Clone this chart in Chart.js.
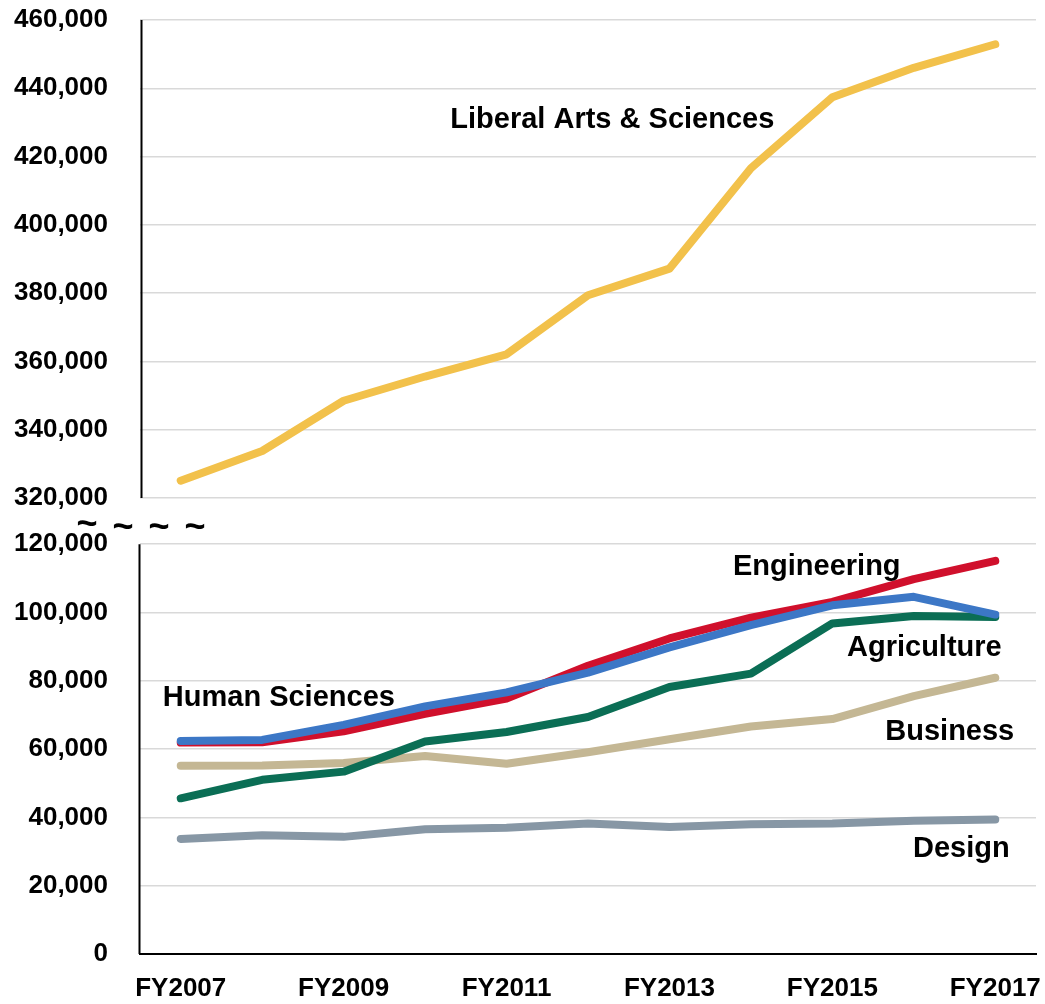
<!DOCTYPE html>
<html>
<head>
<meta charset="utf-8">
<script src="https://cdn.jsdelivr.net/npm/chart.js@4.4.0/dist/chart.umd.min.js"></script>
<style>
    html, body { margin: 0; padding: 0; background: #fff; }
    #chartWrap { position: relative; width: 1045px; height: 1004px; }
</style>
</head>
<body>
<div id="chartWrap"><canvas id="enrollChart"></canvas></div>
<script>
/************************
 *      Resource
 ************************/
const CATEGORIES = ["FY2007", "FY2008", "FY2009", "FY2010", "FY2011", "FY2012", "FY2013", "FY2014", "FY2015", "FY2016", "FY2017"]

const LIBERAL_ARTS = [325100, 333800, 348500, 355600, 362100, 379400, 387200, 416600, 437400, 446000, 452900]
const HUMAN_SCIENCES = [62400, 62700, 67100, 72500, 76600, 82400, 89800, 96300, 102100, 104600, 99400]
const ENGINEERING = [61900, 62000, 65200, 70300, 74800, 84400, 92400, 98500, 103100, 109800, 115100]
const AGRICULTURE = [45600, 51000, 53400, 62200, 65000, 69400, 78200, 82100, 96800, 99000, 98700]
const BUSINESS = [55100, 55200, 55900, 58000, 55700, 59100, 62900, 66600, 68800, 75500, 80900]
const DESIGN = [33700, 34800, 34300, 36500, 37000, 38200, 37200, 38000, 38200, 39000, 39400]

// broken axis: lower part 0..120,000, upper part 320,000..460,000
const LOW_TICKS = [0, 20000, 40000, 60000, 80000, 100000, 120000]
const HIGH_TICKS = [320000, 340000, 360000, 380000, 400000, 420000, 440000, 460000]
const LOW_MAX = 120000
const HIGH_MIN = 320000
const HIGH_MAX = 460000
const BREAK_GAP = 13500
const BREAK_OFFSET = HIGH_MIN - LOW_MAX - BREAK_GAP

const FONT_FAMILY = '"Liberation Sans", Arial, sans-serif'

/************************
 *      Method
 ************************/
const toAxis = (v) => v >= HIGH_MIN ? v - BREAK_OFFSET : v
const fromAxis = (v) => v > LOW_MAX + BREAK_GAP / 2 ? v + BREAK_OFFSET : v

const makeLine = (label, values, color) => ({
    label: label,
    data: values.map(toAxis),
    borderColor: color,
    backgroundColor: color,
    borderWidth: 8,
    borderCapStyle: 'round',
    borderJoinStyle: 'round',
    pointRadius: 0,
    tension: 0,
    fill: false
})

// text labels next to the lines: category position + value
const SERIES_LABELS = [
    { text: "Liberal Arts & Sciences", at: 3.31, value: 428500 },
    { text: "Engineering", at: 6.78, value: 110900 },
    { text: "Agriculture", at: 8.18, value: 87250 },
    { text: "Human Sciences", at: -0.22, value: 72500 },
    { text: "Business", at: 8.65, value: 62550 },
    { text: "Design", at: 8.99, value: 28400 }
]

const brokenAxisPlugin = {
    id: 'brokenAxis',
    afterDraw(chart) {
        const { ctx, chartArea, scales: { x, y } } = chart
        ctx.save()

        //axis segments
        ctx.strokeStyle = '#000'
        ctx.lineWidth = 2
        ctx.beginPath()
        ctx.moveTo(chartArea.left + 1.5, y.getPixelForValue(toAxis(HIGH_MAX)))
        ctx.lineTo(chartArea.left + 1.5, y.getPixelForValue(toAxis(HIGH_MIN)))
        ctx.moveTo(chartArea.left - 0.5, y.getPixelForValue(LOW_MAX))
        ctx.lineTo(chartArea.left - 0.5, y.getPixelForValue(0))
        ctx.stroke()

        //break marks
        const midY = (y.getPixelForValue(toAxis(HIGH_MIN)) + y.getPixelForValue(LOW_MAX)) / 2
        ctx.fillStyle = '#000'
        ctx.font = 'bold 36px ' + FONT_FAMILY
        ctx.textAlign = 'center'
        ctx.textBaseline = 'middle'
        for (let i = 0; i < 4; i++) {
            ctx.fillText('~', chartArea.left - 53 + i * 36, midY + 7 - (i === 0 ? 3 : 0))
        }

        //series names
        ctx.font = 'bold 29px ' + FONT_FAMILY
        ctx.textAlign = 'left'
        ctx.textBaseline = 'alphabetic'
        SERIES_LABELS.forEach(lbl => {
            ctx.fillText(lbl.text, x.getPixelForValue(lbl.at), y.getPixelForValue(toAxis(lbl.value)))
        })
        ctx.restore()
    }
}

const createChart = () => {
    const tickFont = { family: FONT_FAMILY, size: 26, weight: 'bold' }

    new Chart("enrollChart", {
        type: "line",
        data: {
            labels: CATEGORIES,
            datasets: [
                makeLine("Human Sciences", HUMAN_SCIENCES, '#3C77C6'),
                makeLine("Engineering", ENGINEERING, '#D0102C'),
                makeLine("Agriculture", AGRICULTURE, '#0B6E55'),
                makeLine("Business", BUSINESS, '#C4B794'),
                makeLine("Design", DESIGN, '#8797A5'),
                makeLine("Liberal Arts & Sciences", LIBERAL_ARTS, '#F2C14B')
            ]
        },
        options: {
            responsive: true,
            maintainAspectRatio: false,
            animation: false,
            layout: { padding: { top: 20, right: 9, bottom: 0, left: 0 } },
            plugins: {
                legend: { display: false },
                tooltip: { enabled: false }
            },
            scales: {
                x: {
                    offset: true,
                    grid: { display: false, drawTicks: false },
                    border: { display: true, color: '#000', width: 2 },
                    afterFit: (scale) => {
                        scale.height = 50
                        scale.paddingLeft = 0
                        scale.paddingRight = 0
                    },
                    ticks: {
                        autoSkip: false,
                        maxRotation: 0,
                        padding: 19,
                        color: '#000',
                        font: tickFont,
                        callback: (v, i) => i % 2 === 0 ? CATEGORIES[i] : ''
                    }
                },
                y: {
                    min: 0,
                    max: toAxis(HIGH_MAX),
                    afterBuildTicks: (scale) => {
                        scale.ticks = LOW_TICKS.concat(HIGH_TICKS).map(v => ({ value: toAxis(v) }))
                    },
                    afterFit: (scale) => {
                        scale.width = 140
                        scale.paddingTop = 0
                        scale.paddingBottom = 0
                    },
                    grid: { color: '#d9d9d9', lineWidth: 1.5, drawTicks: false },
                    border: { display: false },
                    ticks: {
                        padding: 32,
                        color: '#000',
                        font: tickFont,
                        callback: (v) => fromAxis(v).toLocaleString('en-US')
                    }
                }
            }
        },
        plugins: [brokenAxisPlugin]
    })
}

createChart()
</script>
</body>
</html>
